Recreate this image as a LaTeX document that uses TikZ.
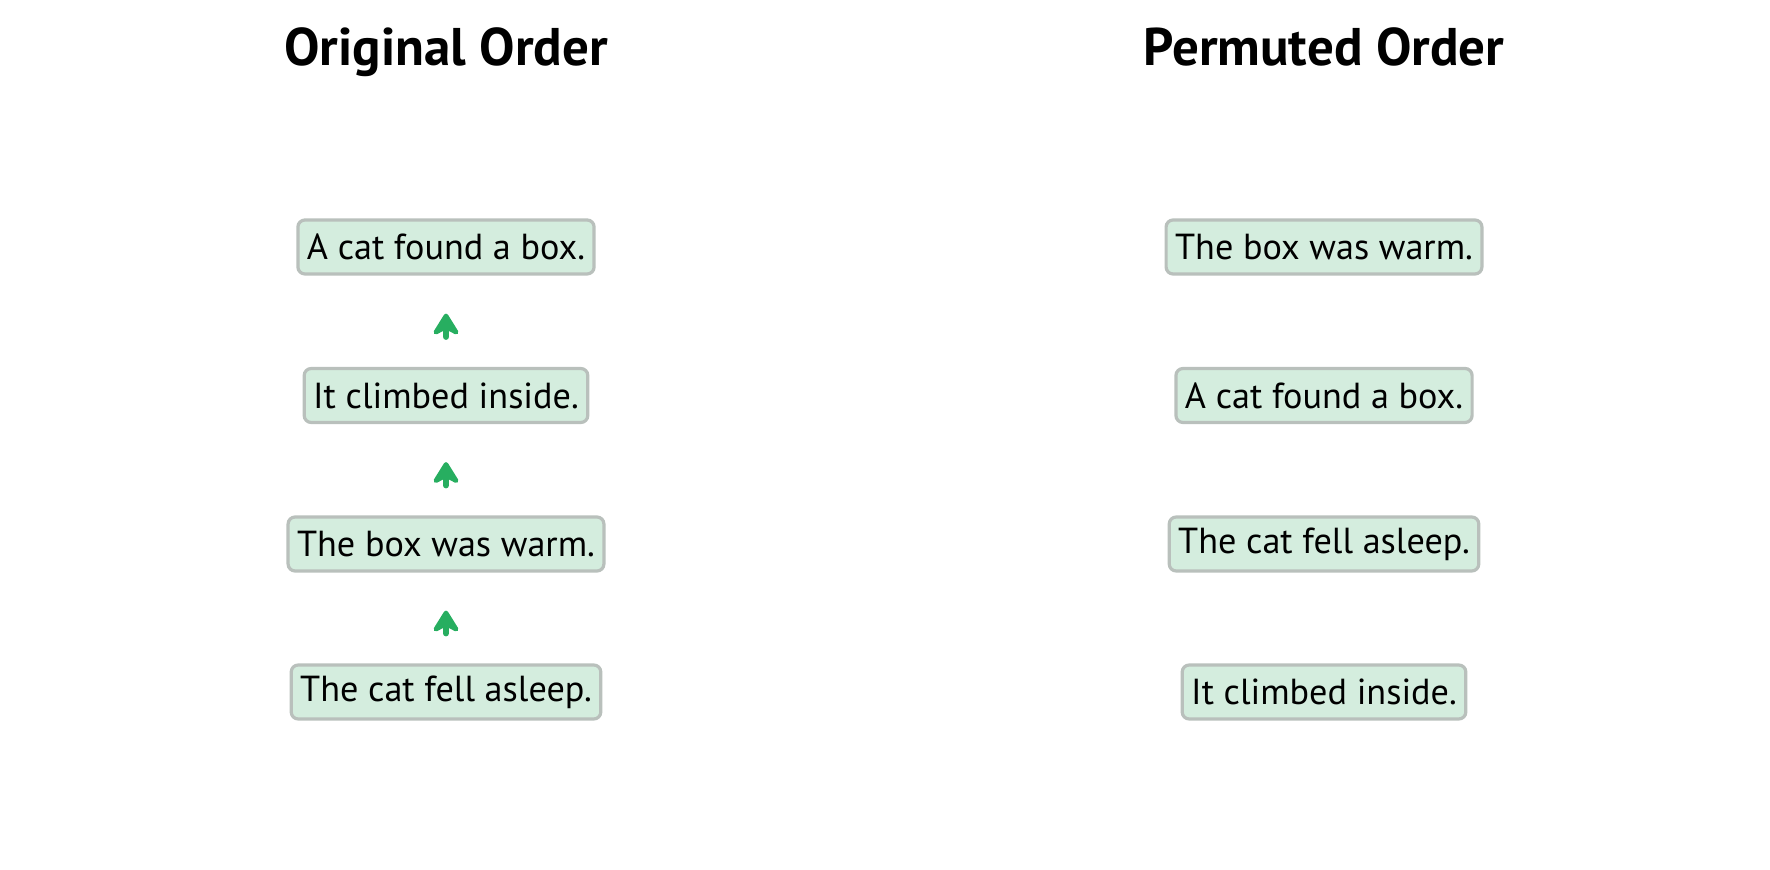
\documentclass[tikz,border=0pt]{standalone}
\usepackage{fontspec}
\setmainfont{PT Sans}
\usetikzlibrary{arrows.meta}
\definecolor{boxfill}{RGB}{212,237,222}
\definecolor{boxdraw}{RGB}{185,192,188}
\definecolor{arrowgreen}{RGB}{39,174,96}
\tikzset{
  sentence/.style={draw=boxdraw, fill=boxfill, line width=1.6pt, rounded corners=3.5pt,
    inner xsep=4.5pt, minimum height=27pt, font=\fontsize{18.1}{22}\selectfont, text=black},
  heading/.style={font=\fontsize{26.5}{30}\selectfont\bfseries, anchor=base},
  flow/.style={draw=arrowgreen, line width=3pt, line cap=round,
    -{Stealth[length=13pt, width=16pt, inset=4pt, round]},
    shorten <=15pt, shorten >=19pt}
}
\begin{document}
\begin{tikzpicture}[x=0.5pt,y=-0.5pt]
\useasboundingbox (0,0) rectangle (1770,870);
\node[heading] (t1) at (446,66) {Original Order};
\node[heading] (t2) at (1324,66) {Permuted Order};
\node[sentence] (l1) at (446,247) {A cat found a box.};
\node[sentence] (l2) at (446,395.5) {It climbed inside.};
\node[sentence] (l3) at (446,544) {The box was warm.};
\node[sentence] (l4) at (446,692) {The cat fell asleep.};
\node[sentence] (r1) at (1324,247) {The box was warm.};
\node[sentence] (r2) at (1324,395.5) {A cat found a box.};
\node[sentence] (r3) at (1324,544) {The cat fell asleep.};
\node[sentence] (r4) at (1324,692) {It climbed inside.};
\draw[flow] (l2.north) -- (l1.south);
\draw[flow] (l3.north) -- (l2.south);
\draw[flow] (l4.north) -- (l3.south);
\end{tikzpicture}
\end{document}
